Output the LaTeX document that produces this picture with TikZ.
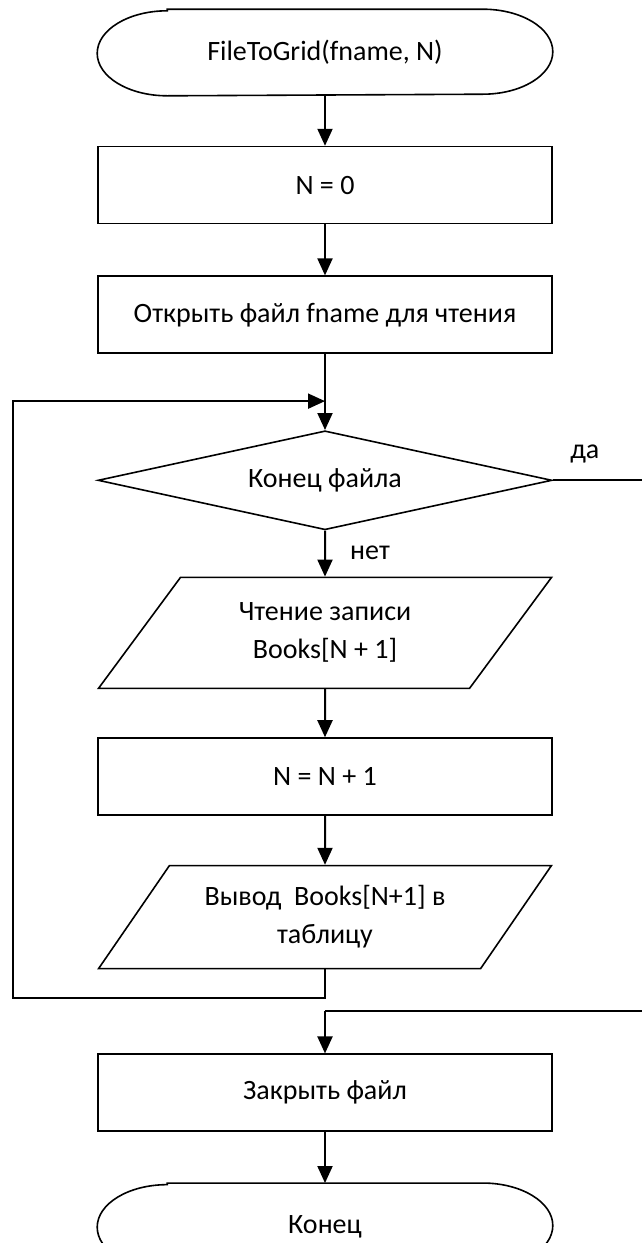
\documentclass[tikz,border=0pt]{standalone}
\usepackage{fontspec}
\setmainfont{Carlito}
\usetikzlibrary{arrows.meta,positioning,shapes.geometric,calc}

\begin{document}
\begin{tikzpicture}[x=0.5pt,y=-0.5pt,>={Triangle[length=8.5pt,width=7.5pt]},font=\fontsize{14pt}{19pt}\selectfont,line width=0.8pt,
  term/.style={minimum width=227pt,minimum height=42.5pt,inner sep=0pt},
  proc/.style={draw,minimum width=227pt,minimum height=38.5pt,inner sep=0pt,align=center},
  cond/.style={draw,diamond,shape aspect=4.59,minimum width=227pt,minimum height=49.5pt,inner sep=0pt},
  io/.style={draw,trapezium,trapezium left angle=50.7,trapezium right angle=129.3,trapezium stretches=true,minimum width=227pt,minimum height=55.5pt,inner sep=0pt,align=center},
  flow/.style={line width=1pt},
  lbl/.style={inner sep=0pt}]
\useasboundingbox (0,0) rectangle (642,1243);
\node[term] (start) at (325,52.5) {FileToGrid(fname, N)};
\node[proc,below=25pt of start] (zero) {N = 0};
\node[proc,below=25.5pt of zero] (open) {Открыть файл fname для чтения};
\node[cond,below=38pt of open] (eof) {Конец файла};
\node[io,below=23pt of eof] (read) {Чтение записи\\Books[N + 1]};
\node[proc,below=24pt of read] (incr) {N = N + 1};
\node[io,below=24.5pt of incr,minimum height=51.5pt,trapezium left angle=48.9,trapezium right angle=131.1] (show) {Вывод~ Books[N+1] в\\таблицу};
\node[proc,below=42pt of show] (close) {Закрыть файл};
\node[term,below=25.5pt of close] (stop) {Конец};
% terminal outlines
\foreach \t in {start,stop}
  \draw ([xshift=35pt]\t.north west) -- ([xshift=-35pt]\t.north east)
    arc[start angle=90,end angle=-90,x radius=35pt,y radius=21.25pt]
    -- ([xshift=35pt]\t.south west)
    arc[start angle=270,end angle=90,x radius=35pt,y radius=21.25pt] -- cycle;
% main flow
\draw[flow,->] (start) -- (zero);
\draw[flow,->] (zero) -- (open);
\draw[flow,->] (open) -- (eof);
\draw[flow,->] (eof) -- (read);
\draw[flow,->] (read) -- (incr);
\draw[flow,->] (incr) -- (show);
% loop back
\coordinate (join) at ($(open.south)!.62!(eof.north)$);
\coordinate (back) at ([yshift=-14.5pt]show.south);
\draw[flow,->] (show.south) -- (back) -| ([xshift=-156pt]join) -- (join);
% exit branch
\coordinate (merge) at ($(show.south)!.5!(close.north)$);
\draw[flow] (eof.east) -- ++(47pt,0) |- (merge);
\draw[flow,->] (merge) -- (close);
\draw[flow,->] (close) -- (stop);
\node[lbl] (yes) at ([xshift=16pt,yshift=13.25pt]eof.east) {да};
\node[lbl] (no) at ([xshift=22.5pt,yshift=-11pt]eof.south) {нет};
\end{tikzpicture}
\end{document}
